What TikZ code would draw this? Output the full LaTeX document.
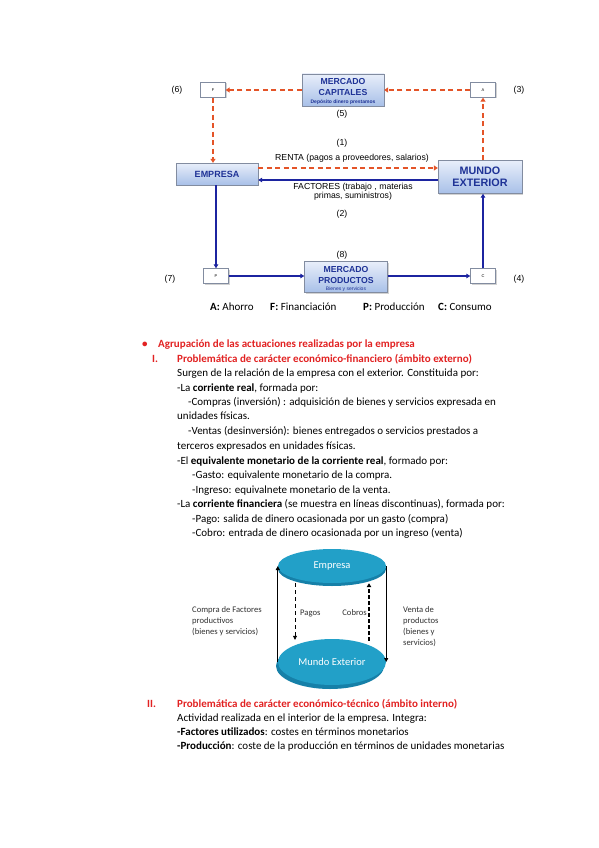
\documentclass[tikz,border=0pt]{standalone}
\usepackage{fontspec}
\setmainfont{Carlito}
\newfontfamily\arial{Liberation Sans}
\usetikzlibrary{arrows.meta,shapes.geometric,calc,shadows}
\definecolor{hred}{RGB}{226,34,34}
\definecolor{ored}{RGB}{228,84,40}
\definecolor{navy}{RGB}{28,36,160}
\definecolor{btext}{RGB}{30,50,150}
\definecolor{bxtop}{RGB}{232,238,250}
\definecolor{bxbot}{RGB}{168,192,232}
\definecolor{bxline}{RGB}{130,140,160}
\definecolor{cyl}{RGB}{34,160,200}
\definecolor{cyld}{RGB}{22,128,168}
\definecolor{lbl}{RGB}{50,50,50}
\tikzset{
  shd/.style={drop shadow={shadow xshift=1pt, shadow yshift=-1pt, opacity=0.35, fill=gray}},
  sbox/.style={draw=bxline, fill=white, shd, minimum width=25pt, minimum height=15pt, inner sep=0pt, font=\arial\fontsize{4}{5}\selectfont},
  bbox/.style={draw=bxline, top color=bxtop, bottom color=bxbot, shd, inner sep=0pt, align=center, text=btext, font=\arial\bfseries\fontsize{8.7}{11}\selectfont},
  btxt/.style={inner sep=0pt, align=center, text=btext, font=\arial\bfseries\fontsize{8.7}{11}\selectfont},
  fin/.style={draw=ored, line width=1.6pt, dash pattern=on 5pt off 3.5pt, -{Triangle[length=4pt,width=5pt]}},
  real/.style={draw=navy, line width=1.3pt, -{Triangle[length=4pt,width=4.5pt]}},
  lab/.style={font=\arial\fontsize{8.7}{10}\selectfont, inner sep=0pt},
  body/.style={anchor=west, inner sep=0pt, text height=8pt, text depth=2.5pt, font=\fontsize{11}{13}\selectfont},
  head/.style={body, text=hred, font=\bfseries\fontsize{11}{13}\selectfont},
  clab/.style={anchor=north west, inner sep=0pt, align=left, text=lbl, font=\fontsize{8.6}{11.2}\selectfont},
  cyln/.style={ellipse, fill=cyl, minimum width=108pt, inner sep=0pt, text=white, font=\fontsize{10.5}{12}\selectfont},
  cylr/.style={ellipse, fill=cyld, minimum width=108pt, inner sep=0pt},
  leg/.style={anchor=west, inner sep=0pt, font=\fontsize{11}{13}\selectfont}
}
\begin{document}
\begin{tikzpicture}[x=1pt,y=-1pt]
\useasboundingbox[fill=white] (0,0) rectangle (599,848);
% ---------- top diagram ----------
\node[sbox] (F) at (213,90) {F};
\node[sbox] (A) at (483,90) {A};
\node[sbox] (P) at (216,276) {P};
\node[sbox] (C) at (483,276) {C};
\node[bbox, minimum width=82pt, minimum height=32pt] (MC) at (343,90) {};
\node[btxt] (MCt) at (343,87.5) {MERCADO\\CAPITALES};
\node[btxt, font=\arial\bfseries\fontsize{5}{6}\selectfont] (MCs) at (343,102.5) {Depósito dinero prestamos};
\node[bbox, minimum width=82pt, minimum height=22pt, font=\arial\bfseries\fontsize{9}{11}\selectfont] (EMP) at (217,174) {EMPRESA};
\node[bbox, minimum width=84pt, minimum height=33pt, font=\arial\bfseries\fontsize{10.8}{12}\selectfont] (MUN) at (480,177) {MUNDO\\EXTERIOR};
\node[bbox, minimum width=83pt, minimum height=31pt] (MP) at (346,277) {};
\node[btxt] (MPt) at (346,275.5) {MERCADO\\PRODUCTOS};
\node[btxt, font=\arial\fontsize{5}{6}\selectfont] (MPs) at (346,289) {Bienes y servicios};
% financial (dashed) flows
\draw[fin] (A.west) -- (MC.east);
\draw[fin] (MC.west) -- (F.east);
\draw[fin] (F.south) -- (F.south |- EMP.north);
\draw[fin] (A.south |- MUN.north) -- (A.south);
\draw[fin] (EMP.east |- 0,168) -- (MUN.west |- 0,168);
% real flows
\draw[real] (MUN.west |- 0,180) -- (EMP.east |- 0,180);
\draw[real] (P.north |- EMP.south) -- (P.north);
\draw[real] (P.east) -- (MP.west |- P.east);
\draw[real] (MP.east |- C.west) -- (C.west);
\draw[real] (C.north) -- (C.north |- MUN.south);
% labels
\node[lab] (l6) at (177,90) {(6)};
\node[lab] (l3) at (519,90) {(3)};
\node[lab] (l5) at (342,114) {(5)};
\node[lab] (l1) at (342,143) {(1)};
\node[lab] (renta) at (352,158) {RENTA (pagos a proveedores, salarios)};
\node[lab, align=center] (fact) at (353,192) {FACTORES (trabajo , materias\\[-1pt]primas, suministros)};
\node[lab] (l2) at (342,214) {(2)};
\node[lab] (l8) at (342,255) {(8)};
\node[lab] (l7) at (170,279) {(7)};
\node[lab] (l4) at (519,279) {(4)};
\node[leg] (gA) at (210,307) {\textbf{A:} Ahorro};
\node[leg] (gF) at (270,307) {\textbf{F:} Financiación};
\node[leg] (gP) at (363,307) {\textbf{P:} Producción};
\node[leg] (gC) at (438,307) {\textbf{C:} Consumo};
% ---------- body text ----------
\node[head] (bul) at (142,345) {•};
\node[head] (t1) at (158,345) {Agrupación de las actuaciones realizadas por la empresa};
\node[head] (n1) at (152,360) {I.};
\node[head] (t2) at (177,360) {Problemática de carácter económico-financiero (ámbito externo)};
\node[body] (t3) at (177,374) {Surgen de la relación de la empresa con el exterior. Constituida por:};
\node[body] (t4) at (177,389) {-La \textbf{corriente real}, formada por:};
\node[body] (t5) at (188,403) {-Compras (inversión) : adquisición de bienes y servicios expresada en};
\node[body] (t6) at (177,417) {unidades físicas.};
\node[body] (t7) at (188,432) {-Ventas (desinversión): bienes entregados o servicios prestados a};
\node[body] (t8) at (177,447) {terceros expresados en unidades físicas.};
\node[body] (t9) at (177,462) {-El \textbf{equivalente monetario de la corriente real}, formado por:};
\node[body] (t10) at (192,476) {-Gasto: equivalente monetario de la compra.};
\node[body] (t11) at (192,491) {-Ingreso: equivalnete monetario de la venta.};
\node[body] (t12) at (177,505) {-La \textbf{corriente financiera} (se muestra en líneas discontinuas), formada por:};
\node[body] (t13) at (192,520) {-Pago: salida de dinero ocasionada por un gasto (compra)};
\node[body] (t14) at (192,534) {-Cobro: entrada de dinero ocasionada por un ingreso (venta)};
\node[head] (n2) at (147,705) {II.};
\node[head] (u1) at (177,705) {Problemática de carácter económico-técnico (ámbito interno)};
\node[body] (u2) at (177,719) {Actividad realizada en el interior de la empresa. Integra:};
\node[body] (u3) at (177,733) {\textbf{-Factores utilizados}: costes en términos monetarios};
\node[body] (u4) at (177,747) {\textbf{-Producción}: coste de la producción en términos de unidades monetarias};
% ---------- cylinder diagram ----------
\node[cylr, minimum height=34pt] (E1r) at (332,569) {};
\node[cyln, minimum height=34pt] (E1) at (332,566) {Empresa};
\node[cylr, minimum height=46pt] (E2r) at (330,666) {};
\node[cyln, minimum height=46pt] (E2) at (332,662) {Mundo Exterior};
\draw[black, line width=0.9pt, -{Triangle[length=4pt,width=4pt]}] (E2.west) -- (E1.west);
\draw[black, line width=0.9pt, -{Triangle[length=4pt,width=4pt]}] (E1.east) -- (E2.east);
\draw[black, line width=0.7pt, dash pattern=on 4pt off 3pt, -{Triangle[length=4pt,width=4pt]}] ([xshift=-37pt]E1.south) -- ([xshift=-37pt,yshift=-1pt]E2.north);
\draw[black, line width=1.3pt, dash pattern=on 4pt off 2pt, -{Triangle[length=4pt,width=4.5pt]}] ([xshift=37pt,yshift=-2pt]E2.north) -- ([xshift=37pt]E1.south);
\node[clab] (cl) at (192,606) {Compra de Factores\\productivos\\(bienes y servicios)};
\node[clab] (cr) at (403,606) {Venta de\\productos\\(bienes y\\servicios)};
\node[anchor=west, inner sep=0pt, text=lbl, font=\fontsize{8.6}{10}\selectfont] (pg) at (300,613) {Pagos};
\node[anchor=east, inner sep=0pt, text=lbl, font=\fontsize{8.6}{10}\selectfont] (cb) at (367,613) {Cobros};
\end{tikzpicture}
\end{document}
